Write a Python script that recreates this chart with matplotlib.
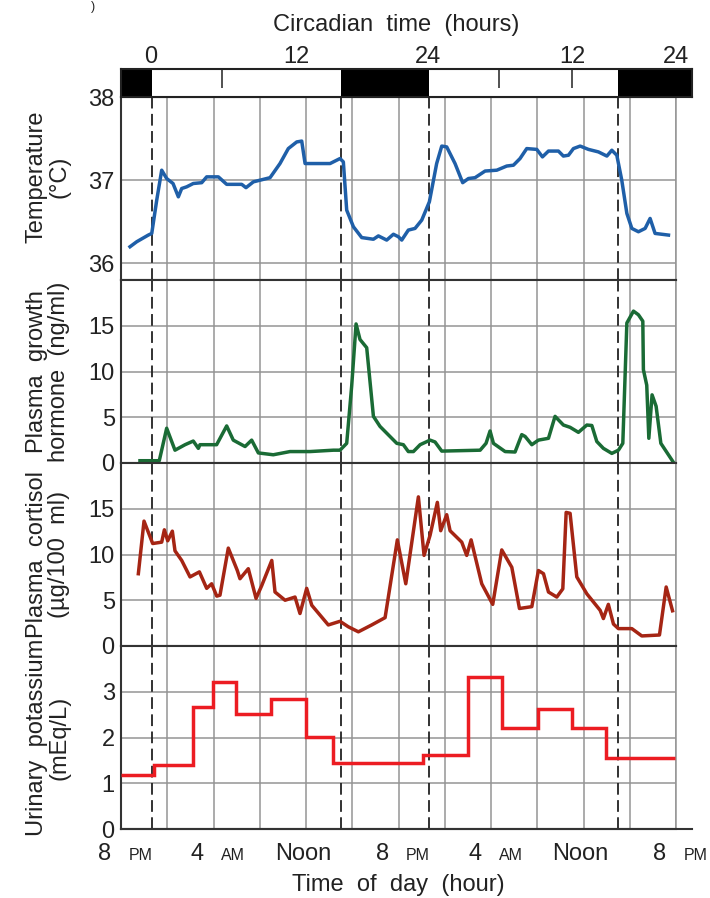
import numpy as np
import matplotlib.pyplot as plt
from matplotlib.lines import Line2D

plt.rcParams['font.family'] = ['Liberation Sans', 'DejaVu Sans']
plt.rcParams['text.color'] = '#222222'
plt.rcParams['xtick.color'] = '#222222'
plt.rcParams['ytick.color'] = '#222222'

# clock hours, 20 = 8 PM on day 1, 68 = 8 PM on day 3
temp_hours = [20.78, 21.36, 22.36, 22.66, 23.09, 23.52, 23.95, 24.5, 24.96, 25.25, 25.68, 26.25,
              26.98, 27.41, 28.42, 29.14, 30.44, 30.81, 31.45, 32.89, 33.75, 34.47, 35.20, 35.63,
              35.92, 38.08, 38.94, 39.23, 39.52, 40.1, 40.82, 41.83, 42.26, 42.98, 43.56, 43.99,
              44.28, 44.85, 45.43, 46.01, 46.67, 47.3, 47.74, 48.17, 48.89, 49.55, 50.05, 50.62,
              51.49, 52.5, 53.36, 53.94, 54.51, 55.09, 55.96, 56.45, 56.97, 57.83, 58.26, 58.7,
              59.13, 59.71, 60.43, 61.29, 62.02, 62.45, 62.88, 63.31, 63.75, 64.18, 64.75, 65.33,
              65.76, 66.19, 66.77, 67.35]
temp_vals = [36.20, 36.26, 36.34, 36.36, 36.76, 37.12, 37.02, 36.96, 36.80, 36.90, 36.92, 36.96,
             36.97, 37.04, 37.04, 36.95, 36.95, 36.91, 36.98, 37.03, 37.20, 37.38, 37.46, 37.47,
             37.20, 37.20, 37.26, 37.22, 36.64, 36.44, 36.31, 36.29, 36.33, 36.28, 36.35, 36.32,
             36.28, 36.40, 36.42, 36.52, 36.74, 37.20, 37.41, 37.40, 37.20, 36.97, 37.02, 37.03,
             37.11, 37.12, 37.17, 37.18, 37.26, 37.38, 37.37, 37.28, 37.35, 37.35, 37.29, 37.30,
             37.38, 37.41, 37.37, 37.34, 37.29, 37.36, 37.30, 37.0, 36.60, 36.42, 36.38, 36.42,
             36.54, 36.36, 36.35, 36.34]

gh_hours = [21.64, 23.31, 23.95, 24.67, 25.54, 26.25, 26.69, 26.83, 28.27, 29.14, 29.71, 30.73,
            31.3, 31.88, 33.17, 34.62, 36.35, 38.37, 38.94, 39.52, 39.95, 40.33, 40.67, 41.25,
            41.83, 42.4, 43.85, 44.42, 44.85, 45.29, 45.87, 46.73, 47.16, 47.74, 51.06, 51.57,
            51.92, 52.21, 53.22, 54.08, 54.66, 54.95, 55.53, 56.1, 56.97, 57.54, 58.26, 58.84,
            59.56, 60.29, 60.72, 61.15, 61.72, 62.45, 63.02, 63.4, 63.75, 64.32, 64.75, 65.13,
            65.18, 65.47, 65.65, 65.93, 66.28, 66.69, 67.79]
gh_vals = [0.25, 0.25, 3.8, 1.4, 2.0, 2.4, 1.6, 2.0, 2.0, 4.05, 2.5, 1.8,
           2.5, 1.1, 0.9, 1.25, 1.25, 1.4, 1.4, 2.15, 8.4, 15.2, 13.5, 12.6,
           5.1, 4.0, 2.15, 2.0, 1.25, 1.25, 2.0, 2.5, 2.3, 1.3, 1.4, 2.15,
           3.5, 2.15, 1.25, 1.2, 3.1, 2.9, 2.0, 2.5, 2.7, 5.1, 4.15, 3.9,
           3.35, 4.15, 4.1, 2.35, 1.6, 1.05, 1.4, 2.15, 15.3, 16.6, 16.2, 15.5,
           10.2, 8.5, 2.7, 7.45, 6.2, 2.15, 0.05]

cort_hours = [21.5, 21.99, 22.74, 23.52, 23.75, 24.04, 24.44, 24.67, 25.25, 25.97, 26.78, 27.41,
              27.84, 28.28, 28.56, 29.28, 30.06, 30.29, 31.01, 31.68, 32.17, 33.04, 33.32, 34.19,
              35.05, 35.48, 36.06, 36.5, 37.93, 38.94, 39.66, 40.53, 41.68, 42.84, 43.9, 44.63,
              45.72, 46.21, 46.73, 47.36, 47.65, 48.17, 48.46, 49.47, 49.9, 50.28, 51.2, 52.15,
              52.93, 53.8, 54.46, 55.53, 56.1, 56.54, 56.97, 57.69, 58.21, 58.5, 58.84, 59.42,
              60.29, 61.44, 61.72, 62.15, 62.59, 63.02, 64.18, 65.04, 66.57, 67.15, 67.7]
cort_vals = [7.9, 13.65, 11.2, 11.35, 12.7, 11.5, 12.55, 10.4, 9.35, 7.55, 8.1, 6.3,
             6.8, 5.45, 5.55, 10.7, 8.25, 7.35, 8.45, 5.2, 6.6, 9.35, 5.9, 5.0,
             5.35, 3.55, 6.3, 4.45, 2.3, 2.7, 2.1, 1.55, 2.3, 3.1, 11.6, 6.8,
             16.3, 9.9, 12.1, 15.7, 12.6, 14.35, 12.6, 11.35, 9.9, 11.6, 6.8, 4.55,
             10.5, 8.6, 4.1, 4.3, 8.25, 7.9, 5.9, 5.35, 6.25, 14.6, 14.5, 7.55,
             5.7, 3.9, 3.0, 4.55, 2.4, 1.9, 1.9, 1.1, 1.2, 6.45, 3.85]

# urinary potassium: collection periods (edges) and mean level
k_edges = [20, 22.85, 26.2, 27.98, 29.95, 32.95, 36.0, 38.37, 46.15, 50.0, 52.93, 56.1, 59.04,
           61.93, 67.9]
k_vals = [1.18, 1.39, 2.66, 3.21, 2.52, 2.85, 2.01, 1.45, 1.62, 3.32, 2.21, 2.63, 2.21, 1.55]

# light/dark schedule
dark_start = [20, 39.0, 63.0]
dark_end = [22.65, 46.65, 69.36]
lights_change = [22.65, 39.0, 46.65, 63.0]

circ_pos = [22.57, 35.15, 46.55, 59.05, 68.0]
circ_labels = ['0', '12', '24', '12', '24']
circ_inner = [28.73, 35.15, 52.7, 59.0]

clock_pos = [20, 28, 36, 44, 52, 60, 68]
clock_nums = ['8', '4', 'Noon', '8', '4', 'Noon', '8']
clock_suffix = ['PM', 'AM', '', 'PM', 'AM', '', 'PM']

W, H = 710, 898
fig = plt.figure(figsize=(W / 100, H / 100), dpi=100)


def px_box(x0, y0, x1, y1):
    return [x0 / W, 1 - y1 / H, (x1 - x0) / W, (y1 - y0) / H]


grid_c = '#949494'
dark_c = '#333333'

panels = [
    (temp_hours, temp_vals, '#1f5fa8', (35.8, 38), [36, 37, 38], 'Temperature\n(°C)', 0.563),
    (gh_hours, gh_vals, '#1a6b35', (0, 20), [0, 5, 10, 15], 'Plasma  growth\nhormone  (ng/ml)', 0.5),
    (cort_hours, cort_vals, '#a52514', (0, 20), [0, 5, 10, 15], 'Plasma  cortisol\n(µg/100  ml)', 0.5),
    (None, None, '#ec1c22', (0, 4), [0, 1, 2, 3], 'Urinary  potassium\n(mEq/L)', 0.5),
]
panel_top = [97, 280, 463, 646]

axes = []
for top, (hrs, vals, col, ylim, yt, lab, lab_y) in zip(panel_top, panels):
    ax = fig.add_axes(px_box(121, top, 676, top + 183))
    axes.append(ax)
    ax.set_xlim(20, 68)
    ax.set_ylim(*ylim)
    ax.set_xticks(range(20, 69, 4))
    ax.set_yticks(yt)
    ax.tick_params(axis='x', length=0, labelbottom=False)
    ax.tick_params(axis='y', length=0, pad=4.5, labelsize=17)
    ax.grid(True, color=grid_c, lw=1.1)
    ax.set_axisbelow(True)
    for side in ['left', 'top', 'bottom']:
        ax.spines[side].set_color(dark_c)
        ax.spines[side].set_linewidth(1.5)
    ax.spines['right'].set_color(grid_c)
    ax.spines['right'].set_linewidth(1.1)
    for d in lights_change:
        ax.axvline(d, color='#222222', lw=1.3, ls=(0, (6.5, 3)), zorder=1.5)
    if hrs is not None:
        ax.plot(hrs, vals, color=col, lw=2.5, solid_joinstyle='round', zorder=3)
    else:
        ax.stairs(k_vals, k_edges, color=col, lw=2.5, baseline=None, zorder=3)
    ax.text(-0.1315, lab_y, lab, transform=ax.transAxes, rotation=90, ha='center',
            va='center', fontsize=17, linespacing=1.05, multialignment='center')

# bottom axis line runs on past the last grid line
fig.add_artist(Line2D([121 / W, 692 / W], [1 - 829 / H] * 2, color=dark_c, lw=1.5))

axk = axes[-1]
for pos, num, suf in zip(clock_pos, clock_nums, clock_suffix):
    if suf:
        axk.annotate(num, (pos, 0), xycoords=('data', 'axes fraction'), xytext=(-7, -22.5),
                     textcoords='offset points', ha='right', va='baseline', fontsize=17,
                     annotation_clip=False)
        axk.annotate(suf, (pos, 0), xycoords=('data', 'axes fraction'), xytext=(5.5, -22.5),
                     textcoords='offset points', ha='left', va='baseline', fontsize=11.5,
                     annotation_clip=False)
    else:
        axk.annotate(num, (pos, 0), xycoords=('data', 'axes fraction'), xytext=(-2, -22.5),
                     textcoords='offset points', ha='center', va='baseline', fontsize=17,
                     annotation_clip=False)

fig.text(398.5 / W, 1 - 885 / H, 'Time  of  day  (hour)', ha='center', va='center', fontsize=17)

# light/dark bar with circadian time
axb = fig.add_axes(px_box(121, 69, 691.7, 97))
axb.set_xlim(20, dark_end[-1])
axb.set_ylim(0, 1)
for s, e in zip(dark_start, dark_end):
    axb.axvspan(s, e, color='black', lw=0)
axb.set_yticks([])
axb.xaxis.set_ticks_position('top')
axb.set_xticks(circ_pos, circ_labels)
axb.set_xticks(circ_inner, minor=True)
axb.tick_params(which='major', length=0, pad=0.5, labelsize=17)
axb.tick_params(which='minor', direction='in', length=13.5, width=1.2, color=dark_c)
for s in axb.spines.values():
    s.set_color('#222222')
    s.set_linewidth(1.5)

fig.text(396 / W, 1 - 25 / H, 'Circadian  time  (hours)', ha='center', va='center', fontsize=17)
fig.text(93 / W, 1 - 1 / H, ')', ha='center', va='top', fontsize=9)

fig.savefig('out.png', dpi=100)
